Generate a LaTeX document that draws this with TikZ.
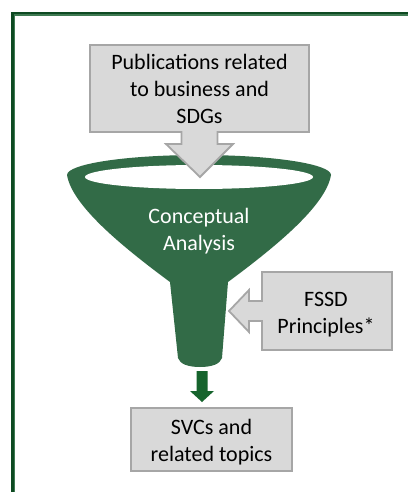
\documentclass[tikz,border=0pt]{standalone}
\usepackage{fontspec}
\setmainfont{Carlito}
\definecolor{framedark}{HTML}{0E4A22}
\definecolor{framelight}{HTML}{3F7A52}
\definecolor{funnelgreen}{HTML}{326B47}
\definecolor{arrowgreen}{HTML}{16642D}
\definecolor{boxfill}{HTML}{D9D9D9}
\definecolor{boxline}{HTML}{A6A6A6}
\tikzset{
  graybox/.style={fill=boxfill, draw=boxline, line width=1.8pt, line join=miter},
  label/.style={align=center, inner sep=0pt, font=\fontsize{22}{27}\selectfont},
}
\begin{document}
\begin{tikzpicture}[x=1pt,y=-1pt]
\useasboundingbox (0,0) rectangle (408,492);
\fill[white] (0,0) rectangle (408,492);
% frame
\draw[framelight, line width=1.2pt] (14.1,492) -- (14.1,15) -- (408,15);
\draw[framedark, line width=2.4pt] (12.5,492) -- (12.5,13.3) -- (408,13.3);
% funnel
\fill[funnelgreen]
  (67,175) arc[start angle=180, end angle=360, x radius=132, y radius=20]
  .. controls (326,205) and (278,245) .. (228,282)
  -- (222,358) .. controls (220,364) and (212,367) .. (200,367)
  .. controls (188,367) and (180,364) .. (178,358)
  -- (170,282)
  .. controls (120,245) and (72,205) .. (67,175) -- cycle;
\fill[white] (199,177) ellipse[x radius=114, y radius=12];
% top callout
\draw[graybox] (90,45) -- (309,45) -- (309,132) -- (217.5,132) -- (217.5,144)
  -- (233,144) -- (200,177) -- (166,144) -- (181.5,144) -- (181.5,132)
  -- (90,132) -- cycle;
% FSSD callout
\draw[graybox] (262,272) -- (392,272) -- (392,350) -- (262,350) -- (262,321)
  -- (249,321) -- (249,332) -- (229,311) -- (249,290) -- (249,301)
  -- (262,301) -- cycle;
% bottom box
\draw[graybox] (131,408) rectangle (292,471);
% small green arrow
\fill[arrowgreen] (196.5,371) -- (207.5,371) -- (207.5,391) -- (214,391)
  -- (202,402) -- (190,391) -- (196.5,391) -- cycle;
% texts
\node[label] (pub) at (199.5,88.5) {Publications related\\to business and\\SDGs};
\node[label, text=white] (ca) at (199,231) {Conceptual\\Analysis};
\node[label] (fssd) at (326,315) {FSSD\\Principles*};
\node[label] (svc) at (211.5,442) {SVCs and\\related topics};
\end{tikzpicture}
\end{document}
